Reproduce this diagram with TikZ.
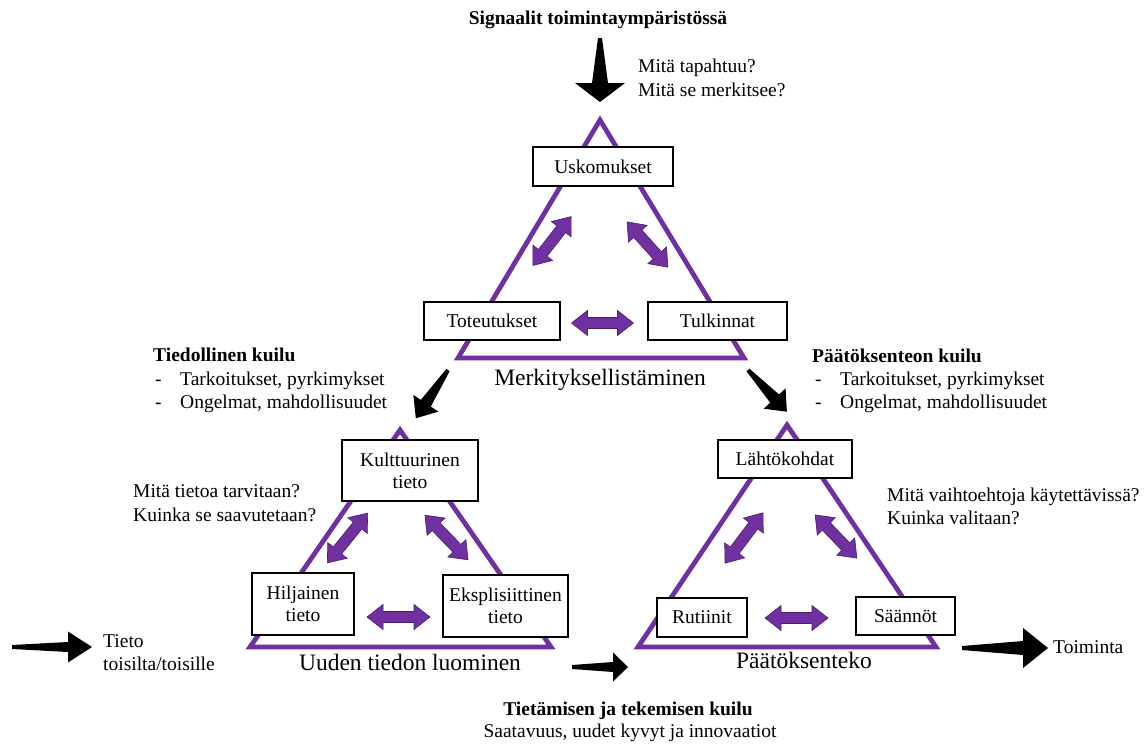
\documentclass[tikz,border=0pt]{standalone}
\usepackage{fontspec}
\setmainfont{Liberation Serif}
\definecolor{tri}{HTML}{7030A0}
\definecolor{triedge}{HTML}{4B1E70}
\tikzset{
 txt/.style={font=\fontsize{19.5}{23}\selectfont, inner sep=0pt, anchor=base west},
 btxt/.style={font=\bfseries\fontsize{19.5}{23}\selectfont, inner sep=0pt, anchor=base west},
 ttl/.style={font=\bfseries\fontsize{19.5}{23}\selectfont, inner sep=0pt, anchor=base},
 ctxt/.style={font=\fontsize{19.5}{23}\selectfont, inner sep=0pt, anchor=base},
 captxt/.style={font=\fontsize{23.5}{28}\selectfont, inner sep=0pt, anchor=base},
 box/.style={draw=black, fill=white, line width=1.2pt, font=\fontsize{19.5}{22}\selectfont, align=center, inner sep=0pt},
 tri/.style={draw=tri, line width=4.8pt, line join=miter},
 parrow/.style={fill=tri, draw=triedge, line width=0.6pt, line join=miter},
 barrow/.style={fill=black},
}
\newcommand\pdarrow[4]{%
 \filldraw[parrow, shift={(#1,#2)}, rotate=#3]
  ({-#4/2},0) -- ({-#4/2+16},12.5) -- ({-#4/2+16},5.5) -- ({#4/2-16},5.5) -- ({#4/2-16},12.5) -- ({#4/2},0)
  -- ({#4/2-16},-12.5) -- ({#4/2-16},-5.5) -- ({-#4/2+16},-5.5) -- ({-#4/2+16},-12.5) -- cycle;}
\newcommand\bkarrow[7]{%
 \fill[barrow, shift={(#1,#2)}, rotate=#3]
  (0,-2) -- ({#4-#5},{-#7}) -- ({#4-#5},{-#6}) -- (#4,0) -- ({#4-#5},#6) -- ({#4-#5},#7) -- (0,2) -- cycle;}
\begin{document}
\begin{tikzpicture}[x=1pt,y=-1pt]
\useasboundingbox[fill=white] (0,0) rectangle (1148,744);

% triangles
\draw[tri] (600,120) -- (744,358) -- (458,358) -- cycle;
\draw[tri] (400,430) -- (551,647) -- (250,647) -- cycle;
\draw[tri] (787,425) -- (936,647) -- (638,647) -- cycle;

% boxes
\node[box, minimum width=140pt, minimum height=39pt] (usk) at (603,166.5) {Uskomukset};
\node[box, minimum width=136pt, minimum height=38pt] (tot) at (492,321) {Toteutukset};
\node[box, minimum width=139pt, minimum height=38pt] (tul) at (717.5,321) {Tulkinnat};
\node[box, minimum width=136pt, minimum height=61pt] (kul) at (410,470.5) {Kulttuurinen\\tieto};
\node[box, minimum width=102pt, minimum height=62pt] (hil) at (303,604) {Hiljainen\\tieto};
\node[box, minimum width=125pt, minimum height=62pt] (eks) at (505.5,606) {Eksplisiittinen\\tieto};
\node[box, minimum width=134pt, minimum height=38pt] (lah) at (785,459) {Lähtökohdat};
\node[box, minimum width=90pt, minimum height=39pt] (rut) at (702,617.5) {Rutiinit};
\node[box, minimum width=99pt, minimum height=38pt] (saa) at (905.5,616) {Säännöt};

% purple double arrows
\pdarrow{552}{241}{52}{62}
\pdarrow{647.5}{244.5}{-48}{61}
\pdarrow{602.5}{323}{0}{62}
\pdarrow{347.5}{538}{51}{64}
\pdarrow{446.5}{537.5}{-46}{62}
\pdarrow{398.5}{617}{0}{63}
\pdarrow{744}{538}{53}{63}
\pdarrow{836}{536.5}{-46}{60}
\pdarrow{796.5}{618}{0}{63}

% black block arrows
\bkarrow{600}{38}{-90}{64}{19}{25}{8}
\bkarrow{448}{370}{-123.7}{58}{18}{15}{6}
\bkarrow{748}{370}{-47}{57}{18}{15}{6}
\bkarrow{12}{647}{0}{80}{24}{15.5}{5}
\bkarrow{572}{667}{0}{56}{15}{14.5}{5}
\bkarrow{962}{648}{0}{86}{25}{20}{7}

% texts
\node[ttl] (title) at (598,24) {Signaalit toimintaympäristössä};
\node[txt] (q1a) at (638,72) {Mitä tapahtuu?};
\node[txt] (q1b) at (638,96) {Mitä se merkitsee?};
\node[captxt] (c1) at (600,385) {Merkityksellistäminen};

\node[btxt] (g1) at (153,361) {Tiedollinen kuilu};
\node[txt] (g1d1) at (155,385) {-};
\node[txt] (g1t1) at (180,385) {Tarkoitukset, pyrkimykset};
\node[txt] (g1d2) at (155,408) {-};
\node[txt] (g1t2) at (180,408) {Ongelmat, mahdollisuudet};

\node[btxt] (g2) at (812,362) {Päätöksenteon kuilu};
\node[txt] (g2d1) at (815,385) {-};
\node[txt] (g2t1) at (840,385) {Tarkoitukset, pyrkimykset};
\node[txt] (g2d2) at (815,408) {-};
\node[txt] (g2t2) at (840,408) {Ongelmat, mahdollisuudet};

\node[txt] (q2a) at (133,497) {Mitä tietoa tarvitaan?};
\node[txt] (q2b) at (133,521) {Kuinka se saavutetaan?};
\node[txt] (q3a) at (887,501) {Mitä vaihtoehtoja käytettävissä?};
\node[txt] (q3b) at (887,524) {Kuinka valitaan?};

\node[captxt] (c2) at (410,670) {Uuden tiedon luominen};
\node[captxt] (c3) at (804,668) {Päätöksenteko};

\node[txt] (tieto1) at (103,647) {Tieto};
\node[txt] (tieto2) at (103,670) {toisilta/toisille};
\node[txt] (toim) at (1053,653) {Toiminta};

\node[ttl] (g3) at (628,715) {Tietämisen ja tekemisen kuilu};
\node[ctxt] (g3t) at (630,737) {Saatavuus, uudet kyvyt ja innovaatiot};
\end{tikzpicture}
\end{document}
